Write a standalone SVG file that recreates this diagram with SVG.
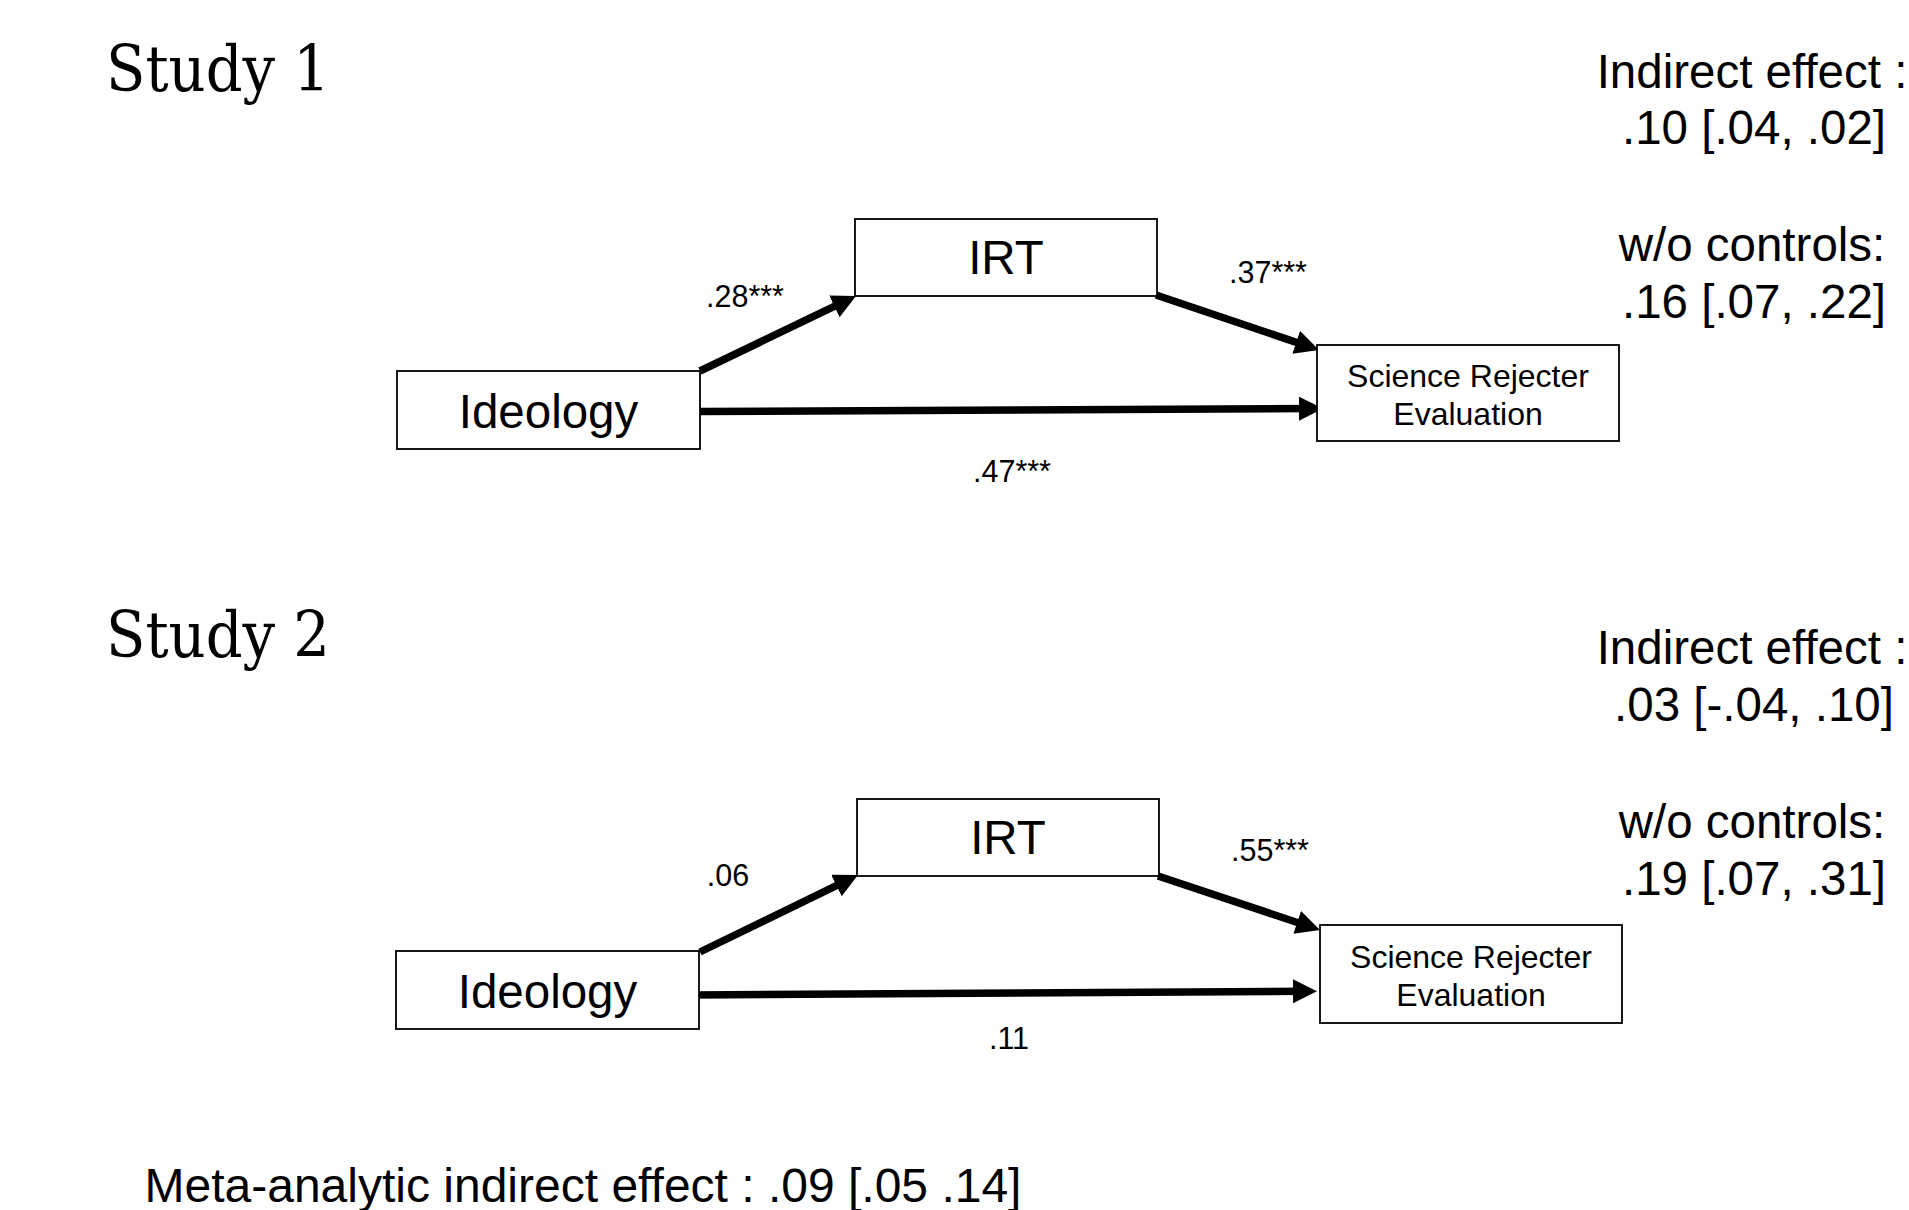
<svg xmlns="http://www.w3.org/2000/svg" width="1909" height="1210" viewBox="0 0 1909 1210">
<style>
.bg{fill:#fff}
.box{fill:#fff;stroke:#000;stroke-width:1.8}
.t{font-family:"Liberation Sans",Arial,sans-serif;fill:#000;text-anchor:middle}
.big{font-size:47.5px}
.mid{font-size:32px}
.sm{font-size:30.5px}
.study{font-family:"DejaVu Serif Condensed","DejaVu Serif",serif;font-stretch:condensed;font-size:64px;fill:#000}
.arr{stroke:#000;stroke-width:7.5;fill:none;marker-end:url(#ah)}
</style>
<defs>
<marker id="ah" markerUnits="userSpaceOnUse" markerWidth="26" markerHeight="26" refX="12" refY="12" orient="auto">
<path d="M0,0 L24,12 L0,24 z" fill="#000"/>
</marker>
</defs>
<rect class="bg" x="0" y="0" width="1909" height="1210"/>

<text class="study" x="106" y="91">Study 1</text>
<text class="study" x="106" y="657">Study 2</text>

<g id="connectors">
<line class="arr" x1="700" y1="371" x2="845.2" y2="301.2"/>
<line class="arr" x1="1156" y1="295" x2="1307.6" y2="346.1"/>
<line class="arr" x1="700" y1="411.5" x2="1311" y2="408.6"/>
<line class="arr" x1="700" y1="952" x2="847.2" y2="880.3"/>
<line class="arr" x1="1158" y1="876" x2="1308.6" y2="926.2"/>
<line class="arr" x1="693" y1="995" x2="1305" y2="991.2"/>
</g>

<g id="s1-ideology"><rect class="box" x="397" y="371" width="303" height="78"/><text class="t big" x="548.5" y="428">Ideology</text></g>
<g id="s1-irt"><rect class="box" x="855" y="219" width="302" height="77"/><text class="t big" x="1006" y="274">IRT</text></g>
<g id="s1-sre"><rect class="box" x="1317" y="345" width="302" height="96"/><text class="t mid" x="1468" y="387">Science Rejecter</text><text class="t mid" x="1468" y="425">Evaluation</text></g>

<g id="s1-labels">
<text class="t sm" x="745" y="307">.28***</text>
<text class="t sm" x="1268" y="283">.37***</text>
<text class="t sm" x="1012" y="482">.47***</text>
</g>
<g id="s1-effects">
<text class="t big" x="1752" y="88">Indirect effect :</text>
<text class="t big" x="1754" y="144">.10 [.04, .02]</text>
<text class="t big" x="1752" y="261">w/o controls:</text>
<text class="t big" x="1754" y="318">.16 [.07, .22]</text>
</g>

<g id="s2-ideology"><rect class="box" x="396" y="951" width="303" height="78"/><text class="t big" x="547.5" y="1008">Ideology</text></g>
<g id="s2-irt"><rect class="box" x="857" y="799" width="302" height="77"/><text class="t big" x="1008" y="854">IRT</text></g>
<g id="s2-sre"><rect class="box" x="1320" y="925" width="302" height="98"/><text class="t mid" x="1471" y="968">Science Rejecter</text><text class="t mid" x="1471" y="1006">Evaluation</text></g>

<g id="s2-labels">
<text class="t sm" x="728" y="886">.06</text>
<text class="t sm" x="1270" y="861">.55***</text>
<text class="t sm" x="1009" y="1049">.11</text>
</g>
<g id="s2-effects">
<text class="t big" x="1752" y="664">Indirect effect :</text>
<text class="t big" x="1754" y="721">.03 [-.04, .10]</text>
<text class="t big" x="1752" y="838">w/o controls:</text>
<text class="t big" x="1754" y="895">.19 [.07, .31]</text>
</g>

<text class="t" style="font-size:48px" x="583" y="1202">Meta-analytic indirect effect : .09 [.05 .14]</text>
</svg>
